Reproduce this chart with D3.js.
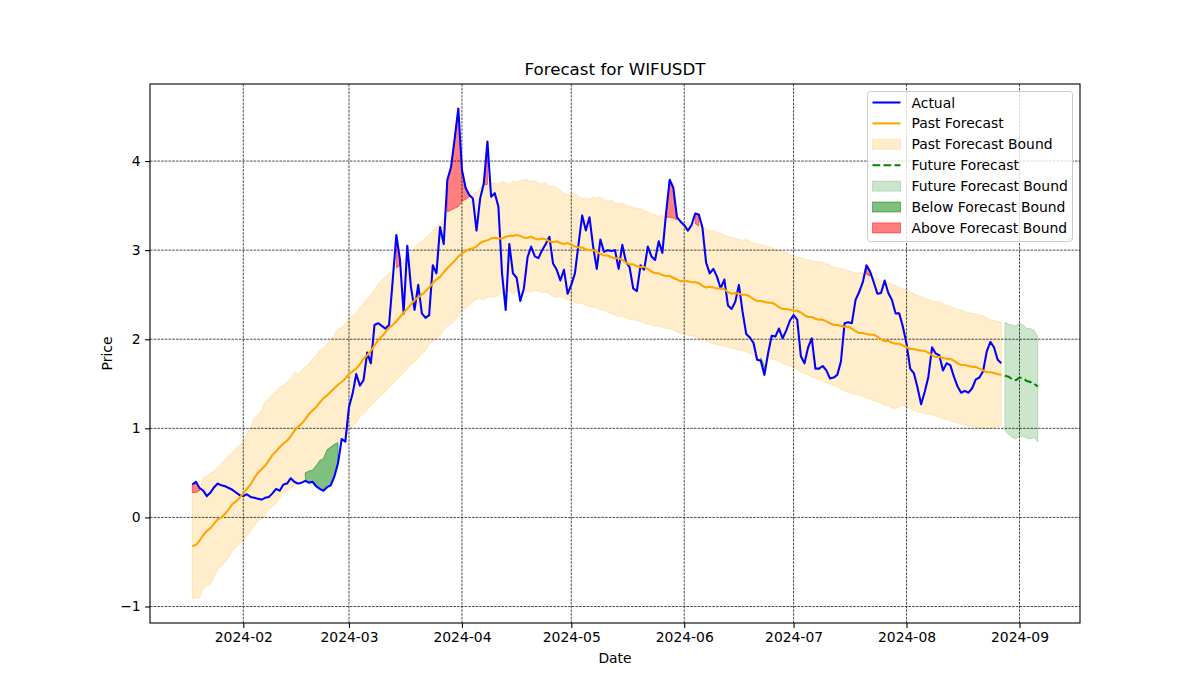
<!DOCTYPE html>
<meta charset="utf-8" />
<title>Forecast for WIFUSDT</title>
<style>
  body { margin: 0; background: #fff; }
  svg { display: block; font-family: "DejaVu Sans", sans-serif; }
  .tick text { font-size: 13.9px; fill: #000; }
  .tick line { stroke: #000; stroke-width: 1.1px; }
  .grid line { stroke: #000; stroke-width: 0.7px; stroke-dasharray: 2.6 1.1; }
</style>
<svg width="1200" height="700"></svg>
<script src="https://d3js.org/d3.v7.min.js"></script>
<script>
// daily values, one row per week
const startDate = "2024-01-18";
const actual = [
  0.37, 0.40, 0.33, 0.30, 0.24, 0.28, 0.34,
  0.38, 0.36, 0.35, 0.33, 0.31, 0.28, 0.25,
  0.24, 0.26, 0.23, 0.22, 0.21, 0.20, 0.22,
  0.23, 0.27, 0.32, 0.30, 0.37, 0.38, 0.44,
  0.40, 0.38, 0.39, 0.41, 0.39, 0.40, 0.35,
  0.32, 0.30, 0.34, 0.36, 0.46, 0.61, 0.88,
  0.85, 1.24, 1.39, 1.61, 1.48, 1.54, 1.85,
  1.73, 2.16, 2.18, 2.15, 2.12, 2.16, 2.66,
  3.17, 2.89, 2.29, 3.05, 2.59, 2.33, 2.61,
  2.29, 2.24, 2.27, 2.83, 2.74, 3.26, 3.07,
  3.79, 3.93, 4.25, 4.59, 3.90, 3.70, 3.62,
  3.58, 3.22, 3.58, 3.75, 4.22, 3.60, 3.64,
  3.49, 2.74, 2.33, 3.07, 2.74, 2.69, 2.43,
  2.57, 2.92, 3.04, 2.93, 2.91, 3.00, 3.07,
  3.15, 2.85, 2.78, 2.66, 2.78, 2.51, 2.61,
  2.74, 3.07, 3.39, 3.22, 3.37, 3.04, 2.79,
  3.12, 2.98, 3.00, 2.99, 3.00, 2.79, 3.06,
  2.87, 2.81, 2.57, 2.54, 2.83, 2.78, 3.04,
  2.93, 2.89, 3.10, 2.97, 3.41, 3.79, 3.70,
  3.37, 3.32, 3.28, 3.22, 3.28, 3.41, 3.40,
  3.25, 2.86, 2.74, 2.79, 2.70, 2.57, 2.67,
  2.38, 2.34, 2.42, 2.61, 2.31, 2.06, 2.02,
  1.96, 1.77, 1.76, 1.60, 1.84, 2.04, 2.03,
  2.12, 2.01, 2.10, 2.21, 2.27, 2.22, 1.81,
  1.73, 1.91, 2.01, 1.67, 1.67, 1.70, 1.65,
  1.56, 1.57, 1.60, 1.75, 2.18, 2.19, 2.18,
  2.44, 2.53, 2.64, 2.83, 2.76, 2.64, 2.51,
  2.52, 2.66, 2.52, 2.44, 2.29, 2.29, 2.14,
  1.95, 1.67, 1.62, 1.46, 1.27, 1.41, 1.58,
  1.91, 1.84, 1.82, 1.65, 1.73, 1.71, 1.58,
  1.47, 1.40, 1.42, 1.40, 1.45, 1.55, 1.57,
  1.64, 1.86, 1.97, 1.91, 1.77, 1.73
];
const pastForecast = [
  -0.32, -0.31, -0.26, -0.20, -0.15, -0.12, -0.07,
  -0.02, 0.00, 0.04, 0.09, 0.15, 0.18, 0.22,
  0.27, 0.32, 0.37, 0.44, 0.50, 0.54, 0.58,
  0.64, 0.70, 0.74, 0.79, 0.83, 0.86, 0.91,
  0.97, 1.02, 1.05, 1.10, 1.16, 1.20, 1.24,
  1.29, 1.34, 1.37, 1.41, 1.45, 1.49, 1.52,
  1.56, 1.61, 1.64, 1.67, 1.72, 1.78, 1.82,
  1.87, 1.93, 1.99, 2.03, 2.08, 2.13, 2.16,
  2.20, 2.25, 2.30, 2.34, 2.39, 2.44, 2.47,
  2.50, 2.54, 2.58, 2.63, 2.67, 2.70, 2.75,
  2.80, 2.84, 2.88, 2.93, 2.96, 2.99, 3.01,
  3.02, 3.04, 3.08, 3.10, 3.11, 3.13, 3.14,
  3.13, 3.13, 3.15, 3.16, 3.16, 3.17, 3.16,
  3.14, 3.14, 3.15, 3.13, 3.12, 3.13, 3.12,
  3.10, 3.09, 3.10, 3.08, 3.07, 3.08, 3.06,
  3.04, 3.03, 3.03, 3.01, 3.00, 3.00, 2.98,
  2.96, 2.94, 2.94, 2.92, 2.91, 2.91, 2.89,
  2.86, 2.84, 2.84, 2.82, 2.81, 2.81, 2.79,
  2.76, 2.74, 2.74, 2.72, 2.71, 2.71, 2.69,
  2.67, 2.65, 2.66, 2.65, 2.64, 2.64, 2.63,
  2.60, 2.58, 2.59, 2.58, 2.57, 2.57, 2.56,
  2.53, 2.51, 2.52, 2.51, 2.50, 2.50, 2.48,
  2.45, 2.43, 2.43, 2.42, 2.41, 2.41, 2.39,
  2.36, 2.34, 2.34, 2.33, 2.32, 2.32, 2.30,
  2.27, 2.25, 2.25, 2.23, 2.22, 2.22, 2.20,
  2.18, 2.16, 2.16, 2.15, 2.14, 2.14, 2.12,
  2.09, 2.07, 2.07, 2.06, 2.05, 2.05, 2.03,
  2.00, 1.98, 1.98, 1.96, 1.95, 1.95, 1.93,
  1.91, 1.89, 1.89, 1.88, 1.87, 1.87, 1.85,
  1.82, 1.80, 1.80, 1.79, 1.78, 1.78, 1.76,
  1.73, 1.71, 1.71, 1.70, 1.69, 1.69, 1.67,
  1.65, 1.63, 1.63, 1.62, 1.61, 1.60
];
const pastUpper = [
  0.28, 0.28, 0.30, 0.45, 0.47, 0.50, 0.52,
  0.56, 0.61, 0.64, 0.70, 0.72, 0.78, 0.81,
  0.85, 0.95, 1.00, 1.12, 1.15, 1.20, 1.30,
  1.33, 1.38, 1.42, 1.46, 1.48, 1.52, 1.55,
  1.63, 1.61, 1.65, 1.69, 1.72, 1.78, 1.82,
  1.88, 1.90, 1.95, 1.99, 2.05, 2.12, 2.13,
  2.18, 2.23, 2.26, 2.30, 2.36, 2.40, 2.46,
  2.50, 2.55, 2.62, 2.66, 2.70, 2.74, 2.76,
  2.80, 2.83, 2.88, 2.95, 2.98, 3.03, 3.07,
  3.10, 3.14, 3.17, 3.22, 3.26, 3.30, 3.36,
  3.43, 3.45, 3.47, 3.49, 3.55, 3.57, 3.60,
  3.62, 3.65, 3.70, 3.73, 3.74, 3.76, 3.75,
  3.74, 3.77, 3.76, 3.74, 3.78, 3.76, 3.78,
  3.79, 3.79, 3.77, 3.78, 3.75, 3.74, 3.76,
  3.71, 3.72, 3.70, 3.67, 3.64, 3.62, 3.63,
  3.64, 3.60, 3.58, 3.59, 3.57, 3.60, 3.58,
  3.60, 3.56, 3.55, 3.56, 3.53, 3.52, 3.53,
  3.50, 3.49, 3.48, 3.47, 3.47, 3.44, 3.43,
  3.41, 3.40, 3.38, 3.39, 3.37, 3.37, 3.36,
  3.34, 3.34, 3.32, 3.30, 3.29, 3.30, 3.27,
  3.26, 3.24, 3.21, 3.22, 3.20, 3.19, 3.17,
  3.15, 3.15, 3.13, 3.12, 3.11, 3.12, 3.10,
  3.08, 3.07, 3.06, 3.05, 3.04, 3.03, 3.00,
  3.00, 2.99, 2.97, 2.95, 2.93, 2.92, 2.91,
  2.90, 2.89, 2.88, 2.87, 2.87, 2.86, 2.85,
  2.83, 2.81, 2.80, 2.79, 2.78, 2.77, 2.76,
  2.74, 2.75, 2.74, 2.73, 2.71, 2.69, 2.68,
  2.66, 2.65, 2.63, 2.62, 2.60, 2.58, 2.57,
  2.55, 2.53, 2.51, 2.49, 2.48, 2.46, 2.45,
  2.43, 2.42, 2.42, 2.40, 2.38, 2.37, 2.35,
  2.34, 2.33, 2.31, 2.30, 2.29, 2.29, 2.27,
  2.26, 2.24, 2.22, 2.21, 2.20, 2.19
];
const pastLower = [
  -0.91, -0.91, -0.90, -0.80, -0.77, -0.75, -0.66,
  -0.58, -0.55, -0.50, -0.45, -0.38, -0.33, -0.30,
  -0.26, -0.20, -0.15, -0.10, -0.04, -0.02, 0.02,
  0.10, 0.12, 0.16, 0.22, 0.26, 0.30, 0.33,
  0.36, 0.37, 0.38, 0.50, 0.52, 0.53, 0.58,
  0.64, 0.66, 0.76, 0.79, 0.82, 0.84, 0.87,
  0.92, 0.98, 1.02, 1.06, 1.13, 1.16, 1.21,
  1.25, 1.29, 1.34, 1.37, 1.41, 1.46, 1.50,
  1.55, 1.58, 1.63, 1.67, 1.72, 1.75, 1.79,
  1.84, 1.87, 1.95, 1.98, 2.00, 2.04, 2.10,
  2.15, 2.17, 2.21, 2.26, 2.33, 2.35, 2.38,
  2.42, 2.45, 2.46, 2.44, 2.47, 2.48, 2.47,
  2.50, 2.52, 2.53, 2.54, 2.50, 2.53, 2.51,
  2.52, 2.54, 2.53, 2.55, 2.54, 2.52, 2.53,
  2.51, 2.48, 2.47, 2.48, 2.46, 2.44, 2.43,
  2.41, 2.40, 2.40, 2.38, 2.37, 2.36, 2.35,
  2.33, 2.33, 2.30, 2.29, 2.27, 2.25, 2.26,
  2.24, 2.22, 2.22, 2.21, 2.20, 2.18, 2.17,
  2.16, 2.15, 2.15, 2.13, 2.12, 2.12, 2.10,
  2.08, 2.06, 2.06, 2.04, 2.04, 2.03, 2.01,
  2.00, 1.98, 1.96, 1.95, 1.94, 1.93, 1.92,
  1.91, 1.90, 1.89, 1.88, 1.87, 1.86, 1.84,
  1.82, 1.76, 1.79, 1.70, 1.78, 1.78, 1.77,
  1.75, 1.73, 1.71, 1.70, 1.68, 1.66, 1.63,
  1.62, 1.60, 1.58, 1.56, 1.55, 1.53, 1.51,
  1.50, 1.48, 1.46, 1.44, 1.42, 1.40, 1.39,
  1.38, 1.37, 1.36, 1.34, 1.33, 1.31, 1.30,
  1.28, 1.26, 1.25, 1.23, 1.22, 1.24, 1.26,
  1.24, 1.22, 1.20, 1.19, 1.18, 1.17, 1.16,
  1.15, 1.14, 1.12, 1.11, 1.10, 1.08, 1.07,
  1.06, 1.05, 1.04, 1.03, 1.02, 1.01, 1.00,
  1.00, 0.99, 1.00, 1.01, 1.02, 1.03
];
const futureStart = "2024-08-28";
const futureForecast = [1.59, 1.58, 1.55, 1.54, 1.57, 1.56, 1.53, 1.52, 1.50, 1.47];
const futureUpper = [2.19, 2.17, 2.16, 2.15, 2.18, 2.16, 2.12, 2.12, 2.10, 2.03];
const futureLower = [0.98, 0.93, 0.90, 0.88, 0.91, 0.91, 0.89, 0.88, 0.90, 0.85];

const xTickLabels = ["2024-02", "2024-03", "2024-04", "2024-05", "2024-06", "2024-07", "2024-08", "2024-09"];
const yTicks = [-1, 0, 1, 2, 3, 4];
const legendItems = [
  { label: "Actual", kind: "line", color: "#0000ff" },
  { label: "Past Forecast", kind: "line", color: "#ffa500" },
  { label: "Past Forecast Bound", kind: "patch", color: "#ffa500", alpha: 0.2 },
  { label: "Future Forecast", kind: "dash", color: "#008000" },
  { label: "Future Forecast Bound", kind: "patch", color: "#008000", alpha: 0.2 },
  { label: "Below Forecast Bound", kind: "patch", color: "#008000", alpha: 0.5 },
  { label: "Above Forecast Bound", kind: "patch", color: "#ff0000", alpha: 0.5 }
];

const plotLeft = 150, plotRight = 1080, plotTop = 84, plotBottom = 623;
const svg = d3.select("svg");
const parseDay = d3.utcParse("%Y-%m-%d");
const parseMonth = d3.utcParse("%Y-%m");

const past = actual.map((v, i) => ({
  date: d3.utcDay.offset(parseDay(startDate), i),
  actual: v, fc: pastForecast[i], hi: pastUpper[i], lo: pastLower[i]
}));
const future = futureForecast.map((v, i) => ({
  date: d3.utcDay.offset(parseDay(futureStart), i),
  fc: v, hi: futureUpper[i], lo: futureLower[i]
}));

// matplotlib style 5% margins
const t0 = +past[0].date, t1 = +future[future.length - 1].date;
const span = t1 - t0;
const x = d3.scaleUtc()
  .domain([new Date(t0 - span * 0.05), new Date(t1 + span * 0.05)])
  .range([plotLeft, plotRight]);
const [ymin, ymax] = d3.extent([...actual, ...pastUpper, ...pastLower, ...futureUpper, ...futureLower]);
const ypad = (ymax - ymin) * 0.05;
const y = d3.scaleLinear().domain([ymin - ypad, ymax + ypad]).range([plotBottom, plotTop]);

svg.append("clipPath").attr("id", "clip")
  .append("rect").attr("x", plotLeft).attr("y", plotTop)
  .attr("width", plotRight - plotLeft).attr("height", plotBottom - plotTop);

const plot = svg.append("g").attr("clip-path", "url(#clip)");

const band = d3.area().x(d => x(d.date)).y0(d => y(d.lo)).y1(d => y(d.hi));

plot.append("path").datum(past).attr("d", band)
  .attr("fill", "#ffa500").attr("fill-opacity", 0.2)
  .attr("stroke", "#ffa500").attr("stroke-opacity", 0.2).attr("stroke-width", 1);
plot.append("path").datum(future).attr("d", band)
  .attr("fill", "#008000").attr("fill-opacity", 0.2)
  .attr("stroke", "#008000").attr("stroke-opacity", 0.2).attr("stroke-width", 1);

// runs of consecutive days outside the bound (like fill_between with where=)
function runs(test) {
  const out = [];
  let cur = [];
  past.forEach(d => {
    if (test(d)) cur.push(d);
    else { if (cur.length > 1) out.push(cur); cur = []; }
  });
  if (cur.length > 1) out.push(cur);
  return out;
}

const below = d3.area().x(d => x(d.date)).y0(d => y(d.actual)).y1(d => y(d.lo));
const above = d3.area().x(d => x(d.date)).y0(d => y(d.hi)).y1(d => y(d.actual));

plot.selectAll(".below").data(runs(d => d.actual < d.lo)).enter()
  .append("path").attr("class", "below").attr("d", below)
  .attr("fill", "#008000").attr("fill-opacity", 0.5)
  .attr("stroke", "#008000").attr("stroke-opacity", 0.5).attr("stroke-width", 1);
plot.selectAll(".above").data(runs(d => d.actual > d.hi)).enter()
  .append("path").attr("class", "above").attr("d", above)
  .attr("fill", "#ff0000").attr("fill-opacity", 0.5)
  .attr("stroke", "#ff0000").attr("stroke-opacity", 0.5).attr("stroke-width", 1);

// grid
const xTickDates = xTickLabels.map(parseMonth);
const grid = svg.append("g").attr("class", "grid");
grid.selectAll(".gx").data(xTickDates).enter().append("line")
  .attr("x1", d => x(d)).attr("x2", d => x(d)).attr("y1", plotTop).attr("y2", plotBottom);
grid.selectAll(".gy").data(yTicks).enter().append("line")
  .attr("x1", plotLeft).attr("x2", plotRight).attr("y1", d => y(d)).attr("y2", d => y(d));

// lines
const lineFc = d3.line().x(d => x(d.date)).y(d => y(d.fc));
const lines = svg.append("g").attr("clip-path", "url(#clip)");
lines.append("path").datum(past)
  .attr("d", d3.line().x(d => x(d.date)).y(d => y(d.actual)))
  .attr("fill", "none").attr("stroke", "#0000ff").attr("stroke-width", 2.08).attr("stroke-linejoin", "round");
lines.append("path").datum(past).attr("d", lineFc)
  .attr("fill", "none").attr("stroke", "#ffa500").attr("stroke-width", 2.08).attr("stroke-linejoin", "round");
lines.append("path").datum(future).attr("d", lineFc)
  .attr("fill", "none").attr("stroke", "#008000").attr("stroke-width", 2.08)
  .attr("stroke-dasharray", "7.7 3.3");

// axes
const xAxis = d3.axisBottom(x).tickValues(xTickDates).tickFormat(d3.utcFormat("%Y-%m"))
  .tickSize(4.9).tickPadding(4.5);
const yAxis = d3.axisLeft(y).tickValues(yTicks)
  .tickFormat(d => d < 0 ? "\u2212" + Math.abs(d) : String(d))
  .tickSize(4.9).tickPadding(4.5);

svg.append("g").attr("transform", `translate(0,${plotBottom})`).call(xAxis)
  .call(g => g.select(".domain").remove())
  .attr("font-family", null).attr("font-size", null);
svg.append("g").attr("transform", `translate(${plotLeft},0)`).call(yAxis)
  .call(g => g.select(".domain").remove())
  .attr("font-family", null).attr("font-size", null);

svg.append("rect").attr("x", plotLeft).attr("y", plotTop)
  .attr("width", plotRight - plotLeft).attr("height", plotBottom - plotTop)
  .attr("fill", "none").attr("stroke", "#000").attr("stroke-width", 1.1);

// labels
svg.append("text").attr("x", (plotLeft + plotRight) / 2).attr("y", 75)
  .attr("text-anchor", "middle").style("font-size", "16.7px").text("Forecast for WIFUSDT");
svg.append("text").attr("x", (plotLeft + plotRight) / 2).attr("y", 663)
  .attr("text-anchor", "middle").style("font-size", "13.9px").text("Date");
svg.append("text").attr("transform", `translate(112,${(plotTop + plotBottom) / 2}) rotate(-90)`)
  .attr("text-anchor", "middle").style("font-size", "13.9px").text("Price");

// legend
const lg = svg.append("g").attr("transform", "translate(867.5,91.5)");
lg.append("rect").attr("width", 205).attr("height", 150).attr("rx", 3)
  .attr("fill", "#fff").attr("fill-opacity", 0.8).attr("stroke", "#cccccc").attr("stroke-width", 1);
const row = lg.selectAll(".row").data(legendItems).enter().append("g")
  .attr("transform", (d, i) => `translate(0,${11 + i * 20.9})`);
row.filter(d => d.kind !== "patch").append("line")
  .attr("x1", 5).attr("x2", 33).attr("y1", 0).attr("y2", 0)
  .attr("stroke", d => d.color).attr("stroke-width", 2.08)
  .attr("stroke-dasharray", d => d.kind === "dash" ? "7.7 3.3" : null);
row.filter(d => d.kind === "patch").append("rect")
  .attr("x", 5).attr("y", -5).attr("width", 28).attr("height", 10)
  .attr("fill", d => d.color).attr("fill-opacity", d => d.alpha)
  .attr("stroke", d => d.color).attr("stroke-opacity", d => d.alpha).attr("stroke-width", 1);
row.append("text").attr("x", 44).attr("y", 5).style("font-size", "13.9px").text(d => d.label);
</script>
